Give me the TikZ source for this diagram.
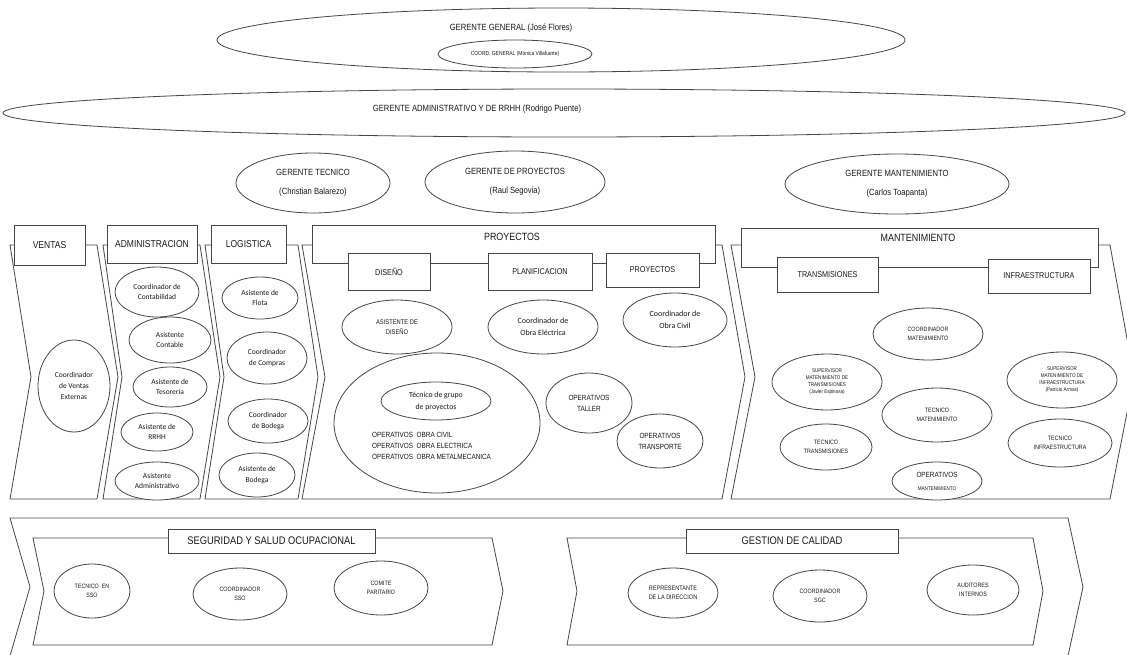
\documentclass[tikz,border=0pt]{standalone}
\usepackage{fontspec}
\setmainfont{Liberation Sans}[FakeStretch=0.85]
\newfontfamily\calfont{Carlito}
\usetikzlibrary{shapes.geometric}
\definecolor{linec}{RGB}{70,70,70}
\definecolor{txtc}{RGB}{25,25,25}
\tikzset{
  band/.style={draw=linec,line width=0.8pt,fill=white},
  ell/.style 2 args={ellipse,draw=linec,line width=0.8pt,fill=white,
    minimum width=#1pt,minimum height=#2pt,inner sep=0pt,align=center,
    text=txtc},
  rbox/.style 2 args={rectangle,draw=linec,line width=0.8pt,fill=white,
    minimum width=#1pt,minimum height=#2pt,inner sep=0pt,align=center,
    text=txtc,font=\fontsize{10}{12}\selectfont},
  lbl/.style={inner sep=0pt,align=center,text=txtc},
  % text sizes
  gtxt/.style={font=\fontsize{9}{19}\selectfont},
  caltxt/.style={font=\calfont\fontsize{7.5}{10.5}\selectfont},
  captxt/.style={font=\fontsize{7}{10}\selectfont},
  opstxt/.style={font=\fontsize{7.5}{11}\selectfont},
  tinytxt/.style={font=\fontsize{5.4}{7}\selectfont},
  smalltxt/.style={font=\fontsize{6.3}{8.5}\selectfont}
}

\begin{document}
\begin{tikzpicture}[x=1pt,y=-1pt]
  \useasboundingbox (0,0) rectangle (1127,654);
  \fill[white] (0,0) rectangle (1127,654);
  \begin{scope}
  \clip (0,0) rectangle (1127,654);

  % managers
  \node[ell={688}{64}] (gg) at (561,40) {};
  \node[lbl,gtxt] (ggtit) at (511,28) {GERENTE GENERAL (José Flores)};
  \node[ell={154}{28},font=\fontsize{5.8}{7}\selectfont] (coordg) at (515,54) {COORD. GENERAL (Mónica Villafuerte)};
  \node[ell={1122}{48}] (gadm) at (564,113) {};
  \node[lbl,gtxt] (gadmtit) at (477,109) {GERENTE ADMINISTRATIVO Y DE RRHH (Rodrigo Puente)};
  \node[ell={154}{60},gtxt] (gtec) at (313,183) {GERENTE TECNICO\\(Christian Balarezo)};
  \node[ell={180}{62},gtxt] (gproy) at (515,182) {GERENTE DE PROYECTOS\\(Raul Segovia)};
  \node[ell={224}{60},gtxt] (gmant) at (897,184) {GERENTE MANTENIMIENTO\\(Carlos Toapanta)};

  % areas
  \draw[band] (10,245) -- (31,377) -- (10,499) -- (97,499) -- (118,377) -- (97,245) -- cycle;
  \draw[band] (103,245) -- (122,377) -- (103,499) -- (200,499) -- (220,377) -- (200,245) -- cycle;
  \draw[band] (205,245) -- (224,377) -- (205,499) -- (298,499) -- (318,377) -- (298,245) -- cycle;
  \draw[band] (302,245) -- (325,377) -- (302,499) -- (722,499) -- (745,377) -- (722,245) -- cycle;
  \draw[band] (731,245) -- (755,377) -- (731,499) -- (1110,499) -- (1134,377) -- (1110,245) -- cycle;

  \node[rbox={71}{40}] (ventas) at (49.5,245) {VENTAS};
  \node[rbox={90}{38}] (admin) at (152,244) {ADMINISTRACION};
  \node[rbox={75}{38}] (logis) at (248.5,244) {LOGISTICA};
  \node[rbox={403}{38}] (proy) at (513.5,244) {};
  \node[lbl,font=\fontsize{10.5}{12}\selectfont] (proytit) at (512,237) {PROYECTOS};
  \node[rbox={82}{37},font=\fontsize{8.5}{10}\selectfont] (diseno) at (389,271.5) {DISEÑO};
  \node[rbox={104}{37},font=\fontsize{8.5}{10}\selectfont] (planif) at (540,271.5) {PLANIFICACION};
  \node[rbox={93}{34},font=\fontsize{8.5}{10}\selectfont] (proysub) at (652.5,270) {PROYECTOS};
  \node[rbox={357}{39}] (mant) at (919.5,247.5) {};
  \node[lbl,font=\fontsize{10.5}{12}\selectfont] (manttit) at (918,238) {MANTENIMIENTO};
  \node[rbox={101}{35},font=\fontsize{8.5}{10}\selectfont] (transm) at (827.5,274.5) {TRANSMISIONES};
  \node[rbox={102}{34},font=\fontsize{8.5}{10}\selectfont] (infra) at (1039,276) {INFRAESTRUCTURA};

  % ventas
  \node[ell={72}{92},font=\calfont\fontsize{7.5}{11}\selectfont] (cventas) at (74,386) {Coordinador\\de Ventas\\Externas};
  % administracion
  \node[ell={84}{50},caltxt] (ccont) at (157,292) {Coordinador de\\Contabilidad};
  \node[ell={82}{46},caltxt] (acont) at (170,340) {Asistente\\Contable};
  \node[ell={74}{40},caltxt] (ateso) at (170,387) {Asistente de\\Tesorería};
  \node[ell={72}{38},caltxt] (arrhh) at (157,432) {Asistente de\\RRHH};
  \node[ell={84}{38},caltxt] (aadm) at (157,481) {Asistente\\Administrativo};
  % logistica
  \node[ell={76}{42},caltxt] (aflota) at (260,298) {Asistente de\\Flota};
  \node[ell={80}{52},caltxt] (ccomp) at (267,358) {Coordinador\\de Compras};
  \node[ell={80}{44},caltxt] (cbod) at (268,421) {Coordinador\\de Bodega};
  \node[ell={76}{44},caltxt] (abod) at (257,475) {Asistente de\\Bodega};
  % proyectos
  \node[ell={110}{54},captxt,font=\fontsize{6.8}{10}\selectfont] (adis) at (397,327) {ASISTENTE DE\\DISEÑO};
  \node[ell={110}{54},font=\calfont\fontsize{8}{12}\selectfont] (celec) at (543,327) {Coordinador de\\Obra Eléctrica};
  \node[ell={104}{54},font=\calfont\fontsize{8}{12}\selectfont] (ccivil) at (675,320) {Coordinador de\\Obra Civil};
  \node[ell={206}{140}] (grupo) at (437,423) {};
  \node[ell={110}{38},font=\calfont\fontsize{7.8}{12}\selectfont] (tgrupo) at (436,401) {Técnico de grupo\\de proyectos};
  \node[lbl,opstxt,anchor=west,align=left] (opobra) at (372,446) {OPERATIVOS\ \ OBRA CIVIL\\OPERATIVOS\ \ OBRA ELECTRICA\\OPERATIVOS\ \ OBRA METALMECANICA};
  \node[ell={86}{60},opstxt] (taller) at (589,403) {OPERATIVOS\\TALLER};
  \node[ell={86}{54},opstxt] (transp) at (660,441) {OPERATIVOS\\TRANSPORTE};
  % mantenimiento
  \node[ell={110}{52},smalltxt] (cmant) at (928,334) {COORDINADOR\\MATENIMIENTO};
  \node[ell={110}{56},tinytxt] (strans) at (827,382) {SUPERVISOR\\MATENIMIENTO DE\\TRANSMISIONES\\(Javier Espinosa)};
  \node[ell={110}{54},smalltxt] (tmant) at (937,415) {TECNICO\\MATENIMIENTO};
  \node[ell={110}{56},tinytxt] (sinfra) at (1062,380) {SUPERVISOR\\MATENIMIENTO DE\\INFRAESTRUCTURA\\(Patricio Armas)};
  \node[ell={92}{46},smalltxt] (ttrans) at (826,447) {TECNICO\\TRANSMISIONES};
  \node[ell={104}{48},smalltxt] (tinfra) at (1060,443) {TECNICO\\INFRAESTRUCTURA};
  \node[ell={90}{38}] (opmant) at (937,481) {{\fontsize{7.5}{9}\selectfont OPERATIVOS}\\[1pt]{\fontsize{5.4}{7}\selectfont MANTENIMIENTO}};

  % support areas
  \draw[band] (10,518) -- (30,587) -- (10,656) -- (1068,656) -- (1083,587) -- (1068,518) -- cycle;
  \draw[band] (33,538) -- (44,591) -- (33,645) -- (492,645) -- (503,591) -- (492,538) -- cycle;
  \draw[band] (567,538) -- (577,591) -- (567,645) -- (1033,645) -- (1043,591) -- (1033,538) -- cycle;
  \node[rbox={207}{24},font=\fontsize{11}{12}\selectfont] (sso) at (271.5,541) {SEGURIDAD Y SALUD OCUPACIONAL};
  \node[rbox={212}{24},font=\fontsize{11}{12}\selectfont] (calidad) at (792,541) {GESTION DE CALIDAD};

  \node[ell={76}{54},smalltxt] (tsso) at (92,591) {TECNICO\ \ EN\\SSO};
  \node[ell={94}{52},smalltxt] (csso) at (240,594) {COORDINADOR\\SSO};
  \node[ell={94}{54},smalltxt] (comite) at (381,588) {COMITE\\PARITARIO};
  \node[ell={90}{50},font=\fontsize{6.5}{9.5}\selectfont] (repr) at (673,593) {REPRESENTANTE\\DE LA DIRECCION};
  \node[ell={94}{52},smalltxt] (csgc) at (820,596) {COORDINADOR\\SGC};
  \node[ell={92}{50},smalltxt] (audit) at (973,590) {AUDITORES\\INTERNOS};
  \end{scope}
\end{tikzpicture}
\end{document}
